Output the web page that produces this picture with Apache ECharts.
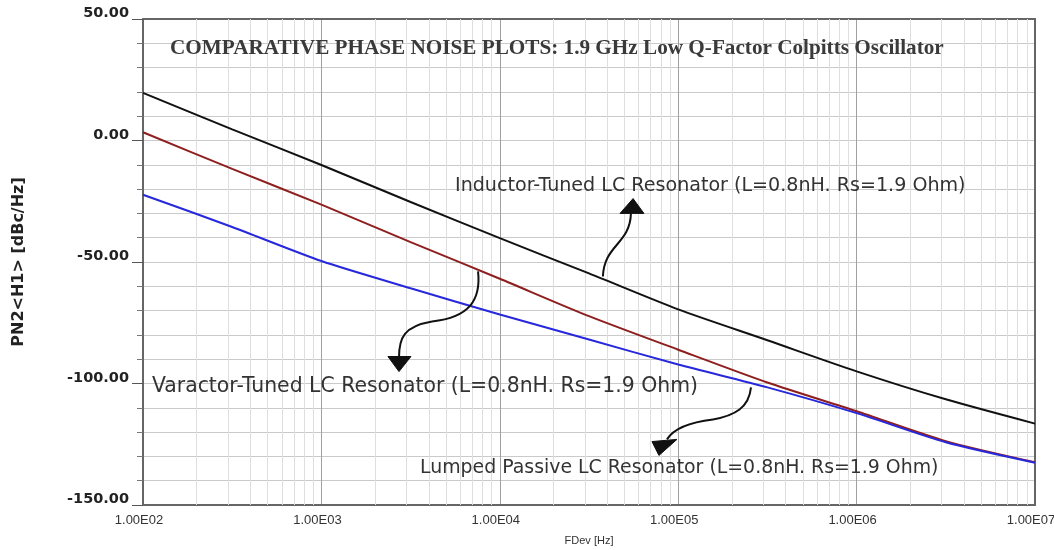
<!DOCTYPE html>
<html>
<head>
<meta charset="utf-8">
<script src="https://cdn.jsdelivr.net/npm/echarts@6/dist/echarts.min.js"></script>
<style>
  html, body { margin: 0; padding: 0; background: #ffffff; }
  #chart { width: 1054px; height: 550px; }
</style>
</head>
<body>
<div id="chart"></div>
<script>
// Offset frequency (Hz), half-decade steps
const freqHz = [1e2, 3.162e2, 1e3, 3.162e3, 1e4, 3.162e4, 1e5, 3.162e5, 1e6, 3.162e6, 1e7];

// Phase noise, dBc/Hz
const inductorTuned = [19.6, 4.6, -10.1, -25.3, -40.2, -54.7, -69.5, -82.2, -95.0, -106.5, -116.5];
const varactorTuned = [3.4, -11.7, -26.4, -41.8, -56.9, -72.3, -86.1, -99.6, -111.4, -123.7, -132.4];
const lumpedPassive = [-22.3, -35.6, -49.6, -60.8, -71.6, -81.9, -92.2, -101.6, -112.2, -124.2, -132.6];

const seriesNames = [
  'Inductor-Tuned LC Resonator (L=0.8nH. Rs=1.9 Ohm)',
  'Varactor-Tuned LC Resonator (L=0.8nH. Rs=1.9 Ohm)',
  'Lumped Passive LC Resonator (L=0.8nH. Rs=1.9 Ohm)'
];

const xTickLabels = ['1.00E02', '1.00E03', '1.00E04', '1.00E05', '1.00E06', '1.00E07'];
const chartTitle = 'COMPARATIVE PHASE NOISE PLOTS: 1.9 GHz Low Q-Factor Colpitts Oscillator';

// Label anchors and callout arrows, given as [log10(freq), dBc/Hz]
const labelAnchors = [
  [3.749, -18.9],
  [2.050, -101.2],
  [3.553, -135.0]
];
const labelFontSizes = [19.1, 20.4, 18.9];
const calloutArrows = [
  { curve: [[4.578, -56.0], [4.584, -42.8], [4.730, -42.8], [4.735, -30.0]],
    head: [[4.747, -23.9], [4.674, -30.0], [4.808, -30.0]] },
  { curve: [[3.878, -53.9], [3.895, -65.4], [3.833, -72.8], [3.620, -74.5],
            [3.463, -76.5], [3.435, -81.1], [3.435, -89.3]],
    head: [[3.435, -95.1], [3.373, -88.9], [3.502, -88.9]] },
  { curve: [[5.408, -101.6], [5.397, -109.9], [5.318, -113.2], [5.195, -114.8],
            [5.055, -116.0], [4.971, -118.9], [4.937, -123.0]],
    head: [[4.892, -129.6], [4.853, -123.9], [4.993, -123.0]] }
];

// Minor vertical grid: 2..9 within each decade
const minorFreqs = [];
for (let e = 2; e < 7; e++) {
  for (let m = 2; m <= 9; m++) minorFreqs.push(m * Math.pow(10, e));
}

const pairs = (vals) => freqHz.map((f, i) => [f, vals[i]]);

const chart = echarts.init(document.getElementById('chart'), null, { renderer: 'canvas' });

const lineSeries = (name, vals, color) => ({
  name, type: 'line', data: pairs(vals), symbol: 'none', smooth: 0.25,
  lineStyle: { color, width: 2 }, z: 3, silent: true
});

const frameAxisLine = { show: true, onZero: false, lineStyle: { color: '#666', width: 2 } };

chart.setOption({
  backgroundColor: '#ffffff',
  animation: false,
  title: {
    text: chartTitle, left: 165, top: 33,
    textStyle: { fontFamily: 'Liberation Serif', fontWeight: 'bold', fontSize: 21.2, color: '#3a3a3a' }
  },
  grid: { left: 143, right: 19, top: 19, bottom: 45, containLabel: false, outerBoundsMode: 'none' },
  xAxis: [{
    type: 'log', logBase: 10, min: 100, max: 1e7,
    name: 'FDev [Hz]', nameLocation: 'middle', nameGap: 30,
    nameTextStyle: { fontFamily: 'Liberation Sans', fontSize: 11, color: '#333' },
    axisLine: frameAxisLine,
    axisTick: { show: false },
    minorTick: { show: false },
    axisLabel: {
      margin: 9, padding: [0, 8, 0, 0], fontFamily: 'Liberation Sans', fontSize: 13, color: '#333',
      formatter: (v) => xTickLabels[Math.round(Math.log10(v)) - 2]
    },
    splitLine: { show: true, lineStyle: { color: '#a0a0a0', width: 1 } }
  }, {
    type: 'log', logBase: 10, min: 100, max: 1e7, position: 'top',
    axisLine: frameAxisLine,
    axisTick: { show: false }, axisLabel: { show: false }, splitLine: { show: false }
  }],
  yAxis: [{
    type: 'value', min: -150, max: 50, interval: 50,
    name: 'PN2<H1> [dBc/Hz]', nameLocation: 'middle', nameGap: 116, nameRotate: 90,
    nameTextStyle: { fontFamily: 'DejaVu Sans', fontWeight: 'bold', fontSize: 16, color: '#222' },
    axisLine: frameAxisLine,
    axisTick: { show: true, length: 11, lineStyle: { color: '#555', width: 1 } },
    minorTick: { show: true, splitNumber: 5, length: 6, lineStyle: { color: '#777', width: 1 } },
    axisLabel: {
      margin: 14, verticalAlign: 'bottom', lineHeight: 11,
      fontFamily: 'DejaVu Sans', fontWeight: 'bold',
      fontSize: 14.5, color: '#222', formatter: (v) => v.toFixed(2)
    },
    splitLine: { show: true, lineStyle: { color: '#cacaca', width: 1 } },
    minorSplitLine: { show: true, lineStyle: { color: '#cacaca', width: 1 } }
  }, {
    type: 'value', min: -150, max: 50, interval: 50, position: 'right',
    axisLine: frameAxisLine,
    axisTick: { show: false }, axisLabel: { show: false }, splitLine: { show: false }
  }],
  series: [
    {
      type: 'line', data: [], silent: true, z: 1,
      markLine: {
        silent: true, z: 1, symbol: ['none', 'none'], label: { show: false },
        lineStyle: { color: '#dedede', width: 1, type: 'solid' },
        emphasis: { disabled: true },
        data: minorFreqs.map((f) => ({ xAxis: f }))
      }
    },
    lineSeries(seriesNames[0], inductorTuned, '#111111'),
    lineSeries(seriesNames[1], varactorTuned, '#8e1f1f'),
    lineSeries(seriesNames[2], lumpedPassive, '#2727dc')
  ]
});

// Curve labels and callout arrows, placed through the axes
const toPx = (p) => chart.convertToPixel({ xAxisIndex: 0, yAxisIndex: 0 }, [Math.pow(10, p[0]), p[1]]);

const graphics = [];
labelAnchors.forEach((a, i) => {
  const [x, y] = toPx(a);
  graphics.push({
    type: 'text', x, y, z: 10, silent: true,
    style: {
      text: seriesNames[i], fontFamily: 'DejaVu Sans', fontSize: labelFontSizes[i],
      fill: '#333', textAlign: 'left', textVerticalAlign: 'middle'
    }
  });
});
calloutArrows.forEach((arr) => {
  const pts = arr.curve.map(toPx);
  for (let i = 0; i + 3 < pts.length; i += 3) {
    graphics.push({
      type: 'bezierCurve', z: 10, silent: true,
      shape: {
        x1: pts[i][0], y1: pts[i][1],
        cpx1: pts[i + 1][0], cpy1: pts[i + 1][1],
        cpx2: pts[i + 2][0], cpy2: pts[i + 2][1],
        x2: pts[i + 3][0], y2: pts[i + 3][1]
      },
      style: { fill: null, stroke: '#111', lineWidth: 2 }
    });
  }
  graphics.push({
    type: 'polygon', z: 10, silent: true,
    shape: { points: arr.head.map(toPx) },
    style: { fill: '#111', stroke: '#111', lineWidth: 1 }
  });
});
chart.setOption({ graphic: graphics });
</script>
</body>
</html>
